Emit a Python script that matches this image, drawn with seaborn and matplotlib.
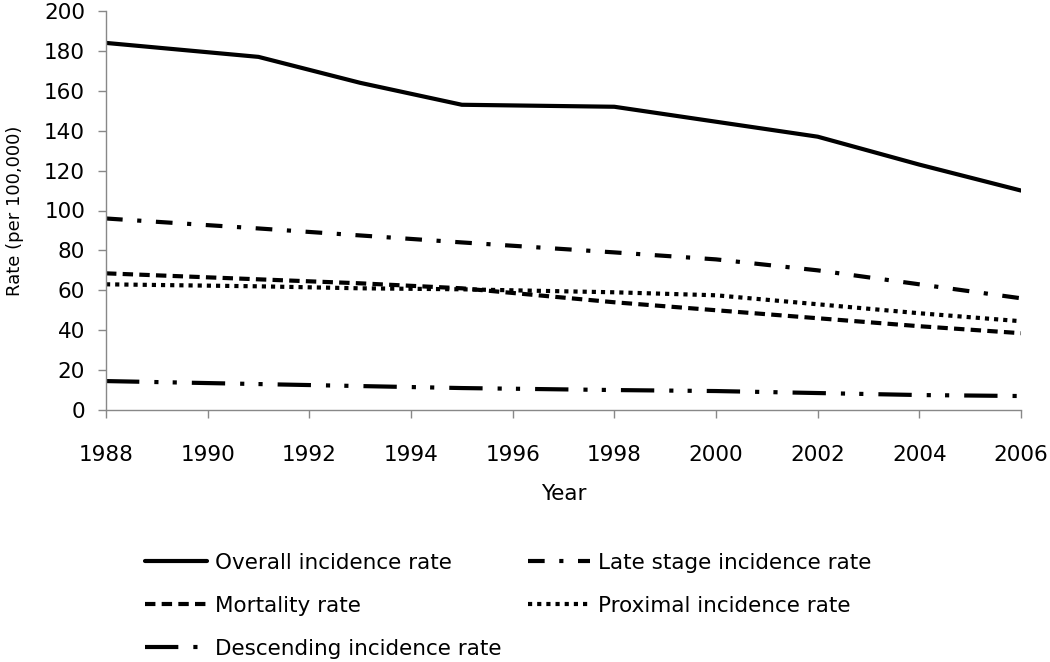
import matplotlib
matplotlib.use("Agg")
import matplotlib.pyplot as plt
import seaborn as sns
import pandas as pd

years = [1988, 1991, 1993, 1995, 1998, 2000, 2002, 2004, 2006]
overall = [184, 177, 164, 153, 152, 144.5, 137, 123, 110]
late_stage = [96, 91, 87.5, 84, 79, 75.5, 70, 63, 56]
mortality = [68.5, 65.5, 63.5, 61, 54, 50, 46, 42, 38.5]
proximal = [63, 62, 61, 60.5, 59, 57.5, 53, 48.5, 44.5]
descending = [14.5, 13, 12, 11, 10, 9.5, 8.5, 7.5, 7]

series_names = ["Overall incidence rate", "Late stage incidence rate", "Mortality rate",
                "Proximal incidence rate", "Descending incidence rate"]
series_values = [overall, late_stage, mortality, proximal, descending]

sns.set_theme(style="white")
plt.rcParams['font.family'] = ['DejaVu Sans']
plt.rcParams['text.color'] = 'black'
plt.rcParams['axes.labelcolor'] = 'black'
plt.rcParams['xtick.color'] = 'black'
plt.rcParams['ytick.color'] = 'black'

rows = []
for name, vals in zip(series_names, series_values):
    for y, v in zip(years, vals):
        rows.append({"Year": y, "Rate": v, "Series": name})
df = pd.DataFrame(rows)

dashes = {
    "Overall incidence rate": "",
    "Late stage incidence rate": (4, 3.5, 1, 3.5),
    "Mortality rate": (2.5, 1.5),
    "Proximal incidence rate": (1, 1.2),
    "Descending incidence rate": (8, 3.6, 1, 3.4, 1, 3.6),
}

FS = 15.5
fig = plt.figure(figsize=(10.5, 6.62), dpi=100)
ax = fig.add_axes([106/1050, 1-410/662, 915/1050, 399/662])
sns.lineplot(data=df, x="Year", y="Rate", hue="Series", style="Series",
             hue_order=series_names, style_order=series_names,
             palette=["black"]*5, dashes=dashes, linewidth=3, ax=ax, legend=True)

ax.set_xlim(1988, 2006)
ax.set_ylim(0, 200)
ax.set_xticks(range(1988, 2007, 2))
ax.set_yticks(range(0, 201, 20))
ax.tick_params(axis='both', labelsize=FS, labelcolor='black', color='#888888',
               length=6, width=1, direction='out', bottom=True, left=True)
ax.tick_params(axis='x', pad=19)
ax.tick_params(axis='y', pad=9)
for s in ['top', 'right']:
    ax.spines[s].set_visible(False)
for s in ['left', 'bottom']:
    ax.spines[s].set_color('#888888')
    ax.spines[s].set_linewidth(1)
ax.set_xlabel("Year", fontsize=FS, color='black')
ax.xaxis.set_label_coords(0.5, -(484-410)/399)
ax.set_ylabel("Rate (per 100,000)", fontsize=13, color='black')
ax.yaxis.set_label_coords((24-106)/915, 0.5)

handles, labels = ax.get_legend_handles_labels()
ax.get_legend().remove()
hmap = dict(zip(labels, handles))
col1 = ["Overall incidence rate", "Mortality rate", "Descending incidence rate"]
col2 = ["Late stage incidence rate", "Proximal incidence rate"]
common = dict(loc='upper left', frameon=False, fontsize=FS, handlelength=2.9,
              handletextpad=0.35, labelspacing=1.06, borderpad=0, borderaxespad=0,
              labelcolor='black')
leg1 = fig.legend([hmap[l] for l in col1], col1, bbox_to_anchor=(145/1050, 1-553/662), **common)
leg2 = fig.legend([hmap[l] for l in col2], col2, bbox_to_anchor=(528/1050, 1-553/662), **common)

fig.savefig("out.png", dpi=100)
